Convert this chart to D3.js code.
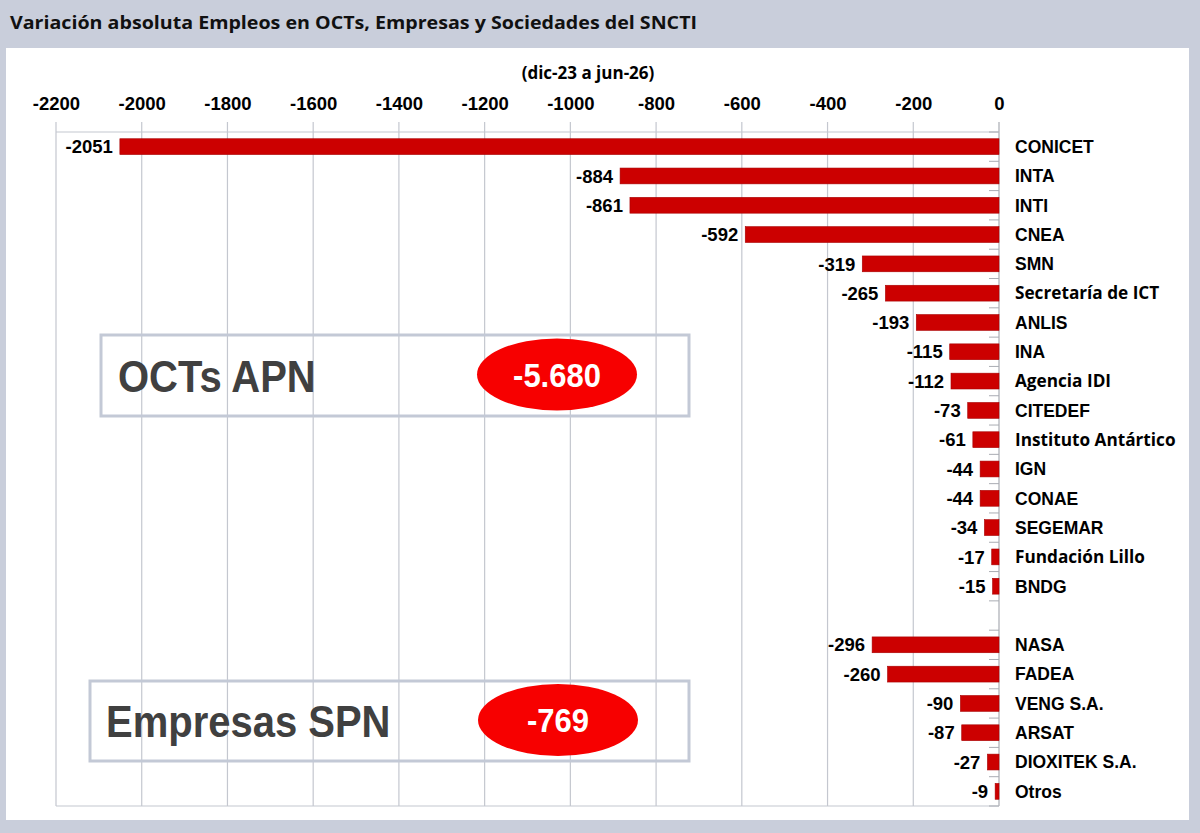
<!DOCTYPE html>
<html>
<head>
<meta charset="utf-8">
<script src="https://cdn.jsdelivr.net/npm/d3@7"></script>
<style>
  body { margin: 0; background: #c9cedb; }
  svg { display: block; }
</style>
</head>
<body>
<div id="chart"></div>
<script>
/**
 * DATA
 * */
const octNames = ["CONICET", "INTA", "INTI", "CNEA", "SMN", "Secretaría de ICT", "ANLIS", "INA",
  "Agencia IDI", "CITEDEF", "Instituto Antártico", "IGN", "CONAE", "SEGEMAR", "Fundación Lillo", "BNDG"];
const octValues = [-2051, -884, -861, -592, -319, -265, -193, -115, -112, -73, -61, -44, -44, -34, -17, -15];

const spnNames = ["NASA", "FADEA", "VENG S.A.", "ARSAT", "DIOXITEK S.A.", "Otros"];
const spnValues = [-296, -260, -90, -87, -27, -9];

const groupNames = ["OCTs APN", "Empresas SPN"];
const xTicks = [-2200, -2000, -1800, -1600, -1400, -1200, -1000, -800, -600, -400, -200, 0];

const title = "Variación absoluta Empleos en OCTs, Empresas y Sociedades del SNCTI";
const subtitle = "(dic-23 a jun-26)";

/**
 * CONSTANTS
 * */
const width = 1200, height = 833;
const plot = { left: 56, right: 999, top: 132, bottom: 806 };
const gridColor = "#c4c7cf";
const boldSans = "'Liberation Sans', Arial, sans-serif";
const altFont = ["Secretaría de ICT", "Agencia IDI", "Instituto Antártico", "Fundación Lillo"];

// one blank band separates the two groups
const rows = octNames.map((n, i) => ({ name: n, value: octValues[i] }))
  .concat([{ name: " ", value: null }])
  .concat(spnNames.map((n, i) => ({ name: n, value: spnValues[i] })));

const svg = d3.select("#chart").append("svg")
  .attr("width", width)
  .attr("height", height);

// background + white panel
svg.append("rect").attr("width", width).attr("height", height).attr("fill", "#c9cedb");
svg.append("rect")
  .attr("x", 6).attr("y", 48)
  .attr("width", 1183).attr("height", 772)
  .attr("fill", "#fff");

svg.append("text")
  .attr("x", 10).attr("y", 29)
  .attr("font-family", "'Open Sans', sans-serif")
  .attr("font-weight", 700)
  .attr("font-size", 18)
  .attr("textLength", 687)
  .attr("lengthAdjust", "spacingAndGlyphs")
  .attr("fill", "#111")
  .text(title);

svg.append("text")
  .attr("x", 588).attr("y", 79)
  .attr("text-anchor", "middle")
  .attr("font-family", "'Open Sans', sans-serif")
  .attr("font-weight", 700)
  .attr("font-size", 17)
  .text(subtitle);

/**
 * SCALES
 * */
const x = d3.scaleLinear().domain([-2200, 0]).range([plot.left, plot.right]);
const y = d3.scaleBand()
  .domain(rows.map(d => d.name))
  .range([plot.top, plot.bottom])
  .paddingInner(0.46)
  .paddingOuter(0.23);

// gridlines (with the part above the plot acting as tick marks)
svg.append("g")
  .selectAll("line")
  .data(xTicks)
  .join("line")
  .attr("x1", d => x(d)).attr("x2", d => x(d))
  .attr("y1", plot.top - 10).attr("y2", plot.bottom)
  .attr("stroke", d => d === 0 ? "#a9acb3" : gridColor)
  .attr("stroke-width", 1.2);

svg.append("line")
  .attr("x1", plot.left).attr("x2", plot.right)
  .attr("y1", plot.top).attr("y2", plot.top)
  .attr("stroke", gridColor).attr("stroke-width", 1.2);
svg.append("line")
  .attr("x1", plot.left).attr("x2", plot.right)
  .attr("y1", plot.bottom).attr("y2", plot.bottom)
  .attr("stroke", gridColor).attr("stroke-width", 1.2);

// top axis labels
const xAxis = d3.axisTop(x).tickValues(xTicks).tickSize(0).tickPadding(0).tickFormat(d => String(d));
svg.append("g")
  .attr("transform", `translate(0,${plot.top - 22})`)
  .call(xAxis)
  .call(g => g.select(".domain").remove())
  .call(g => g.selectAll("text")
    .attr("font-family", boldSans)
    .attr("font-weight", 700)
    .attr("font-size", 18.5)
    .attr("fill", "#000"));

// category tick marks between bands
const step = y.step();
svg.append("g")
  .selectAll("line")
  .data(d3.range(rows.length + 1))
  .join("line")
  .attr("x1", plot.right - 10).attr("x2", plot.right)
  .attr("y1", i => plot.top + i * step).attr("y2", i => plot.top + i * step)
  .attr("stroke", "#a9acb3");

// bars
const data = rows.filter(d => d.value !== null);
svg.append("g")
  .selectAll("rect")
  .data(data)
  .join("rect")
  .attr("x", d => x(d.value))
  .attr("y", d => y(d.name))
  .attr("width", d => x(0) - x(d.value))
  .attr("height", y.bandwidth())
  .attr("fill", "#cc0000")
  .attr("stroke", "#a80000")
  .attr("stroke-width", 0.6);

// value labels
svg.append("g")
  .selectAll("text")
  .data(data)
  .join("text")
  .attr("x", d => x(d.value) - 7)
  .attr("y", d => y(d.name) + y.bandwidth() / 2)
  .attr("dy", "0.36em")
  .attr("text-anchor", "end")
  .attr("font-family", boldSans)
  .attr("font-weight", 700)
  .attr("font-size", 18.5)
  .attr("fill", "#000")
  .text(d => d.value);

// category labels
svg.append("g")
  .selectAll("text")
  .data(data)
  .join("text")
  .attr("x", plot.right + 16)
  .attr("y", d => y(d.name) + y.bandwidth() / 2)
  .attr("dy", "0.36em")
  .attr("font-family", d => altFont.includes(d.name) ? "'Open Sans', sans-serif" : boldSans)
  .attr("font-weight", 700)
  .attr("font-size", d => altFont.includes(d.name) ? 17.2 : 17.5)
  .attr("fill", "#000")
  .text(d => d.name);

/**
 * GROUP TOTAL BOXES
 * */
const fmt = d3.formatLocale({ decimal: ",", thousands: ".", grouping: [3], currency: ["$", ""], minus: "-" }).format(",d");
const totals = [d3.sum(octValues), d3.sum(spnValues)];
const boxes = [
  { x0: 101, x1: 689, y0: 335, y1: 416, tx: 118, ex: 557 },
  { x0: 90, x1: 689, y0: 681, y1: 761, tx: 106, ex: 558 },
];

const box = svg.append("g")
  .selectAll("g")
  .data(boxes)
  .join("g");

box.append("rect")
  .attr("x", d => d.x0).attr("y", d => d.y0)
  .attr("width", d => d.x1 - d.x0).attr("height", d => d.y1 - d.y0)
  .attr("fill", "none")
  .attr("stroke", "#c3c9d6")
  .attr("stroke-width", 3);

box.append("text")
  .attr("transform", d => `translate(${d.tx},${(d.y0 + d.y1) / 2 + 16}) scale(1,1.1)`)
  .attr("font-family", boldSans)
  .attr("font-weight", 700)
  .attr("font-size", 40)
  .attr("fill", "#404040")
  .text((d, i) => groupNames[i]);

box.append("ellipse")
  .attr("cx", d => d.ex).attr("cy", d => (d.y0 + d.y1) / 2 - 1)
  .attr("rx", 80).attr("ry", 36)
  .attr("fill", "#f70000");

box.append("text")
  .attr("transform", d => `translate(${d.ex},${(d.y0 + d.y1) / 2 + 11}) scale(1,1.1)`)
  .attr("text-anchor", "middle")
  .attr("font-family", boldSans)
  .attr("font-weight", 700)
  .attr("font-size", 31)
  .attr("fill", "#fff")
  .text((d, i) => fmt(totals[i]));
</script>
</body>
</html>
